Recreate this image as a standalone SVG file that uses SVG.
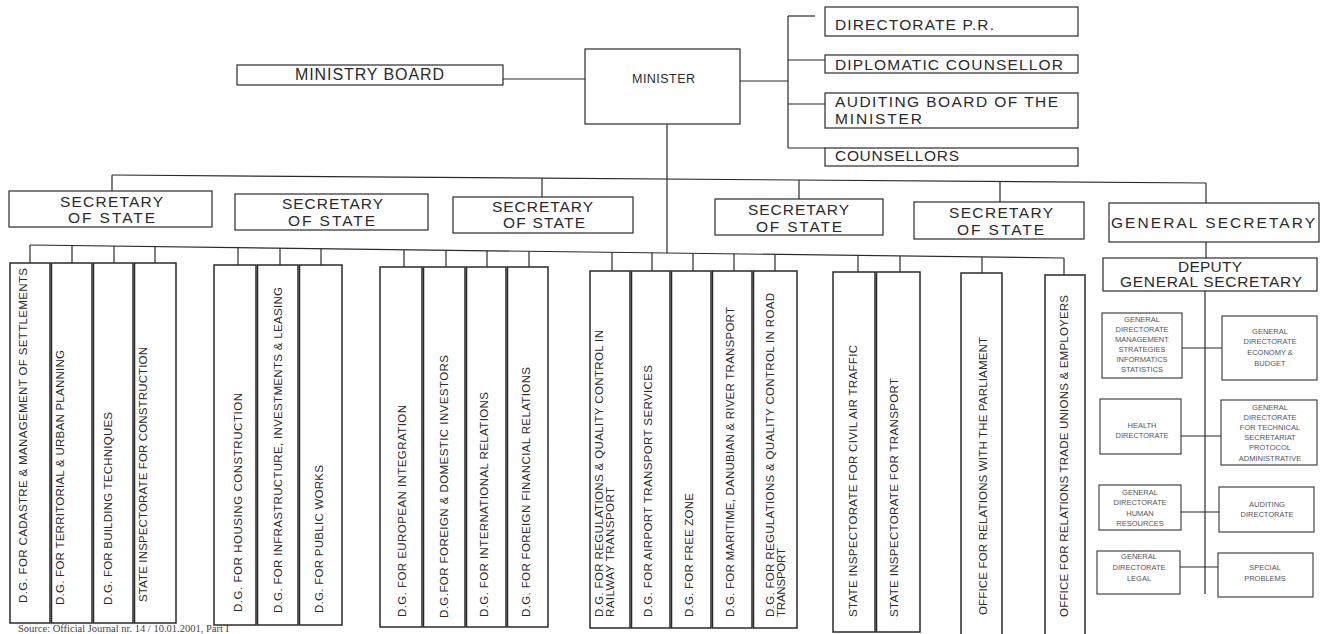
<svg xmlns="http://www.w3.org/2000/svg" width="1320" height="634" viewBox="0 0 1320 634">
<style>
.b{fill:#fff;stroke:#2a2a2a;stroke-width:1.2}
.v{fill:#fff;stroke:#2a2a2a;stroke-width:1.5}
.s{fill:#fff;stroke:#333;stroke-width:1.1}
.c line{stroke:#2a2a2a;stroke-width:1.2;fill:none}
text{font-family:"Liberation Sans",Arial,sans-serif;fill:#2a2a2a}
.h{font-size:15.5px}
.vt{font-size:11.5px}
.st{font-size:7.5px;fill:#555;text-anchor:middle}
.src{font-family:"Liberation Serif","Times New Roman",serif;font-size:10.5px;fill:#444}
</style>
<rect width="1320" height="634" fill="#fff"/>

<g class="c" id="connectors">
  <line x1="503" y1="79" x2="585" y2="79"/>
  <line x1="740" y1="81" x2="788" y2="81"/>
  <line x1="788" y1="16" x2="788" y2="148"/>
  <line x1="788" y1="16" x2="815" y2="16"/>
  <line x1="788" y1="60" x2="825" y2="60"/>
  <line x1="788" y1="104" x2="825" y2="104"/>
  <line x1="788" y1="148" x2="825" y2="148"/>
  <line x1="667" y1="124" x2="667" y2="253"/>
  <line x1="112" y1="175" x2="1206" y2="183"/>
  <line x1="112" y1="175" x2="112" y2="191"/>
  <line x1="542" y1="178" x2="542" y2="197"/>
  <line x1="799" y1="180" x2="799" y2="199"/>
  <line x1="1000" y1="181.5" x2="1000" y2="202"/>
  <line x1="1206" y1="183" x2="1206" y2="203"/>
  <line x1="1206" y1="242" x2="1206" y2="258"/>
  <line x1="1205" y1="291" x2="1205" y2="594"/>
  <line x1="1182" y1="348" x2="1222" y2="348"/>
  <line x1="1181" y1="436" x2="1221" y2="436"/>
  <line x1="1181" y1="512" x2="1219" y2="512"/>
  <line x1="1180" y1="567" x2="1218" y2="567"/>
  <line x1="30" y1="245" x2="1064" y2="258"/>
  <line x1="30" y1="245" x2="30" y2="263"/>
  <line x1="72" y1="245.5" x2="72" y2="263"/>
  <line x1="114" y1="246" x2="114" y2="263"/>
  <line x1="155" y1="246.6" x2="155" y2="263"/>
  <line x1="238" y1="247.6" x2="238" y2="265"/>
  <line x1="280" y1="248.1" x2="280" y2="265"/>
  <line x1="321" y1="248.7" x2="321" y2="265"/>
  <line x1="404" y1="249.7" x2="404" y2="267"/>
  <line x1="446" y1="250.2" x2="446" y2="267"/>
  <line x1="487" y1="250.7" x2="487" y2="267"/>
  <line x1="529" y1="251.3" x2="529" y2="267"/>
  <line x1="612" y1="252.3" x2="612" y2="271"/>
  <line x1="652" y1="252.8" x2="652" y2="271"/>
  <line x1="693" y1="253.3" x2="693" y2="271"/>
  <line x1="734" y1="253.8" x2="734" y2="271"/>
  <line x1="775" y1="254.4" x2="775" y2="271"/>
  <line x1="858" y1="255.4" x2="858" y2="272"/>
  <line x1="900" y1="255.9" x2="900" y2="272"/>
  <line x1="982" y1="257" x2="982" y2="273"/>
  <line x1="1064" y1="258" x2="1064" y2="275"/>
</g>

<g id="ministry-board"><rect class="b" x="237" y="65" width="266" height="20"/><text x="295" y="80" font-size="16" textLength="149" lengthAdjust="spacing">MINISTRY BOARD</text></g>
<g id="minister"><rect class="b" x="585" y="49" width="155" height="75"/><text x="632" y="83" font-size="12.5" textLength="63" lengthAdjust="spacing">MINISTER</text></g>
<g id="directorate-pr"><rect class="b" x="825" y="7" width="253" height="29"/><text class="h" x="835" y="30" textLength="159" lengthAdjust="spacing">DIRECTORATE P.R.</text></g>
<g id="diplomatic-counsellor"><rect class="b" x="825" y="55" width="253" height="18"/><text class="h" x="835" y="70" textLength="228" lengthAdjust="spacing">DIPLOMATIC COUNSELLOR</text></g>
<g id="auditing-board"><rect class="b" x="825" y="93" width="253" height="35"/><text class="h" x="835" y="107" textLength="223" lengthAdjust="spacing">AUDITING BOARD OF THE</text><text class="h" x="835" y="124" textLength="87" lengthAdjust="spacing">MINISTER</text></g>
<g id="counsellors"><rect class="b" x="825" y="148" width="253" height="18"/><text class="h" x="835" y="161" textLength="124" lengthAdjust="spacing">COUNSELLORS</text></g>

<g id="sos1"><rect class="b" x="9" y="191" width="203" height="36"/><text class="h" x="60" y="207" textLength="103" lengthAdjust="spacing">SECRETARY</text><text class="h" x="68" y="223" textLength="87" lengthAdjust="spacing">OF STATE</text></g>
<g id="sos2"><rect class="b" x="235" y="194" width="193" height="36"/><text class="h" x="282" y="209" textLength="101" lengthAdjust="spacing">SECRETARY</text><text class="h" x="288" y="226" textLength="87" lengthAdjust="spacing">OF STATE</text></g>
<g id="sos3"><rect class="b" x="453" y="197" width="180" height="36"/><text class="h" x="492" y="212" textLength="101" lengthAdjust="spacing">SECRETARY</text><text class="h" x="503" y="228" textLength="82" lengthAdjust="spacing">OF STATE</text></g>
<g id="sos4"><rect class="b" x="715" y="199" width="168" height="36"/><text class="h" x="748" y="215" textLength="101" lengthAdjust="spacing">SECRETARY</text><text class="h" x="756" y="232" textLength="86" lengthAdjust="spacing">OF STATE</text></g>
<g id="sos5"><rect class="b" x="914" y="202" width="170" height="37"/><text class="h" x="949" y="218" textLength="104" lengthAdjust="spacing">SECRETARY</text><text class="h" x="957" y="235" textLength="87" lengthAdjust="spacing">OF STATE</text></g>
<g id="general-secretary"><rect class="b" x="1109" y="203" width="210" height="39"/><text class="h" x="1111" y="228" textLength="204" lengthAdjust="spacing">GENERAL SECRETARY</text></g>
<g id="deputy-general-secretary"><rect class="b" x="1103" y="258" width="214" height="33"/><text class="h" x="1178" y="272" textLength="64" lengthAdjust="spacing">DEPUTY</text><text class="h" x="1120" y="287" textLength="182" lengthAdjust="spacing">GENERAL SECRETARY</text></g>

<g id="gd-management"><rect class="s" x="1102" y="313" width="80" height="65"/>
<text class="st" x="1142" y="322">GENERAL</text><text class="st" x="1142" y="332">DIRECTORATE</text><text class="st" x="1142" y="342">MANAGEMENT</text><text class="st" x="1142" y="352">STRATEGIES</text><text class="st" x="1142" y="362">INFORMATICS</text><text class="st" x="1142" y="372">STATISTICS</text></g>
<g id="gd-economy"><rect class="s" x="1222" y="316" width="95" height="64"/>
<text class="st" x="1270" y="334">GENERAL</text><text class="st" x="1270" y="344">DIRECTORATE</text><text class="st" x="1270" y="355">ECONOMY &amp;</text><text class="st" x="1270" y="366">BUDGET</text></g>
<g id="health"><rect class="s" x="1100" y="399" width="81" height="55"/>
<text class="st" x="1142" y="428">HEALTH</text><text class="st" x="1142" y="438">DIRECTORATE</text></g>
<g id="gd-technical"><rect class="s" x="1221" y="400" width="96" height="65"/>
<text class="st" x="1270" y="410">GENERAL</text><text class="st" x="1270" y="420">DIRECTORATE</text><text class="st" x="1270" y="430">FOR TECHNICAL</text><text class="st" x="1270" y="440">SECRETARIAT</text><text class="st" x="1270" y="450">PROTOCOL</text><text class="st" x="1270" y="461">ADMINISTRATIVE</text></g>
<g id="gd-human"><rect class="s" x="1099" y="485" width="82" height="45"/>
<text class="st" x="1140" y="495">GENERAL</text><text class="st" x="1140" y="505">DIRECTORATE</text><text class="st" x="1140" y="516">HUMAN</text><text class="st" x="1140" y="526">RESOURCES</text></g>
<g id="auditing-directorate"><rect class="s" x="1219" y="487" width="95" height="45"/>
<text class="st" x="1267" y="507">AUDITING</text><text class="st" x="1267" y="517">DIRECTORATE</text></g>
<g id="gd-legal"><rect class="s" x="1097" y="551" width="83" height="43"/>
<text class="st" x="1139" y="559">GENERAL</text><text class="st" x="1139" y="570">DIRECTORATE</text><text class="st" x="1139" y="581">LEGAL</text></g>
<g id="special-problems"><rect class="s" x="1218" y="553" width="95" height="44"/>
<text class="st" x="1265" y="570">SPECIAL</text><text class="st" x="1265" y="581">PROBLEMS</text></g>

<g id="v1"><rect class="v" x="10" y="263" width="40" height="360"/><text class="vt" transform="translate(27,603) rotate(-90)" textLength="335" lengthAdjust="spacing">D.G. FOR CADASTRE &amp; MANAGEMENT OF SETTLEMENTS</text></g>
<g id="v2"><rect class="v" x="51.5" y="263" width="40.5" height="360"/><text class="vt" transform="translate(64,605) rotate(-90)" textLength="255" lengthAdjust="spacing">D.G. FOR TERRITORIAL &amp; URBAN PLANNING</text></g>
<g id="v3"><rect class="v" x="93.5" y="263" width="39.5" height="360"/><text class="vt" transform="translate(112,605) rotate(-90)" textLength="193" lengthAdjust="spacing">D.G. FOR BUILDING TECHNIQUES</text></g>
<g id="v4"><rect class="v" x="134.5" y="263" width="41.5" height="360"/><text class="vt" transform="translate(147,602) rotate(-90)" textLength="255" lengthAdjust="spacing">STATE INSPECTORATE FOR CONSTRUCTION</text></g>

<g id="v5"><rect class="v" x="214" y="265" width="42" height="360"/><text class="vt" transform="translate(242,612) rotate(-90)" textLength="219" lengthAdjust="spacing">D.G. FOR HOUSING CONSTRUCTION</text></g>
<g id="v6"><rect class="v" x="257.5" y="265" width="40.5" height="360"/><text class="vt" transform="translate(282,613) rotate(-90)" textLength="326" lengthAdjust="spacing">D.G. FOR INFRASTRUCTURE, INVESTMENTS &amp; LEASING</text></g>
<g id="v7"><rect class="v" x="299.5" y="265" width="42.5" height="360"/><text class="vt" transform="translate(323,613) rotate(-90)" textLength="148" lengthAdjust="spacing">D.G. FOR PUBLIC WORKS</text></g>

<g id="v8"><rect class="v" x="380" y="267" width="42" height="360"/><text class="vt" transform="translate(406,617) rotate(-90)" textLength="212" lengthAdjust="spacing">D.G. FOR EUROPEAN INTEGRATION</text></g>
<g id="v9"><rect class="v" x="423.5" y="267" width="41.5" height="360"/><text class="vt" transform="translate(448,618) rotate(-90)" textLength="263" lengthAdjust="spacing">D.G.FOR FOREIGN &amp; DOMESTIC INVESTORS</text></g>
<g id="v10"><rect class="v" x="466.5" y="267" width="39.5" height="360"/><text class="vt" transform="translate(488,617) rotate(-90)" textLength="225" lengthAdjust="spacing">D.G. FOR INTERNATIONAL RELATIONS</text></g>
<g id="v11"><rect class="v" x="507.5" y="267" width="40.5" height="360"/><text class="vt" transform="translate(530,617) rotate(-90)" textLength="250" lengthAdjust="spacing">D.G. FOR FOREIGN FINANCIAL RELATIONS</text></g>

<g id="v12"><rect class="v" x="590" y="271" width="40" height="357"/><text class="vt" transform="translate(603,617) rotate(-90)" textLength="287" lengthAdjust="spacing">D.G. FOR REGULATIONS &amp; QUALITY CONTROL IN</text><text class="vt" transform="translate(614,617) rotate(-90)" textLength="130" lengthAdjust="spacing">RAILWAY TRANSPORT</text></g>
<g id="v13"><rect class="v" x="631.5" y="271" width="38.5" height="357"/><text class="vt" transform="translate(652,617) rotate(-90)" textLength="252" lengthAdjust="spacing">D.G. FOR AIRPORT TRANSPORT SERVICES</text></g>
<g id="v14"><rect class="v" x="671.5" y="271" width="39.5" height="357"/><text class="vt" transform="translate(693,617) rotate(-90)" textLength="124" lengthAdjust="spacing">D.G. FOR FREE ZONE</text></g>
<g id="v15"><rect class="v" x="712.5" y="271" width="39.5" height="357"/><text class="vt" transform="translate(734,617) rotate(-90)" textLength="310" lengthAdjust="spacing">D.G. FOR MARITIME, DANUBIAN &amp; RIVER TRANSPORT</text></g>
<g id="v16"><rect class="v" x="753.5" y="271" width="43.5" height="357"/><text class="vt" transform="translate(774,617) rotate(-90)" textLength="324" lengthAdjust="spacing">D.G. FOR REGULATIONS &amp; QUALITY CONTROL IN ROAD</text><text class="vt" transform="translate(785,617) rotate(-90)" textLength="69" lengthAdjust="spacing">TRANSPORT</text></g>

<g id="v17"><rect class="v" x="833" y="272" width="42" height="360"/><text class="vt" transform="translate(857,617) rotate(-90)" textLength="272" lengthAdjust="spacing">STATE INSPECTORATE FOR CIVIL AIR TRAFFIC</text></g>
<g id="v18"><rect class="v" x="876.5" y="272" width="43.5" height="360"/><text class="vt" transform="translate(898,617) rotate(-90)" textLength="239" lengthAdjust="spacing">STATE INSPECTORATE FOR TRANSPORT</text></g>

<g id="v19"><rect class="v" x="961" y="273" width="41" height="365"/><text class="vt" transform="translate(987,615) rotate(-90)" textLength="278" lengthAdjust="spacing">OFFICE FOR RELATIONS WITH THE PARLIAMENT</text></g>
<g id="v20"><rect class="v" x="1045" y="275" width="40" height="365"/><text class="vt" transform="translate(1068,617) rotate(-90)" textLength="322" lengthAdjust="spacing">OFFICE FOR RELATIONS TRADE UNIONS &amp; EMPLOYERS</text></g>

<text class="src" x="18" y="631.5">Source: Official Journal nr. 14 / 10.01.2001, Part I</text>
</svg>
